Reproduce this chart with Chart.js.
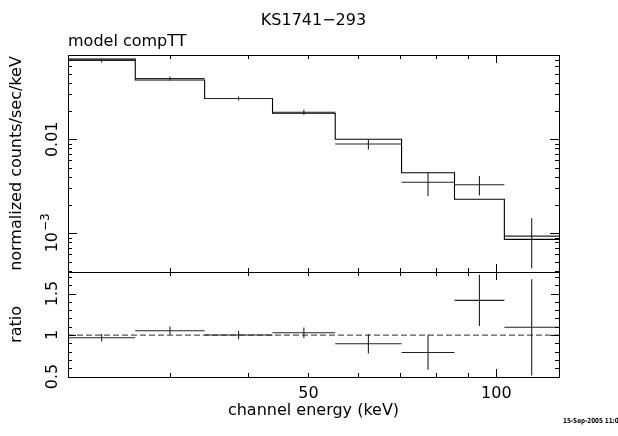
<!DOCTYPE html>
<html>
<head>
<meta charset="utf-8">
<script src="https://cdn.jsdelivr.net/npm/chart.js@4.4.1/dist/chart.umd.min.js"></script>
<style>
  html, body { margin: 0; padding: 0; background: #fff; }
  canvas { display: block; }
</style>
</head>
<body>
<canvas id="plot" width="618" height="436" style="width:618px;height:436px"></canvas>
<script>
// energy bin edges (keV), 8 channels
const binEdges = [20.6, 26.4, 34.1, 43.8, 55.2, 70.5, 85.7, 103, 126];
// top panel: data and folded model (normalized counts/sec/keV)
const counts    = [0.0689, 0.0444, 0.0272, 0.0194, 0.0089, 0.00349, 0.00329, 0.000935];
const countsErr = [0.0032, 0.0021, 0.00136, 0.0012, 0.0011, 0.0010, 0.00077, 0.00051];
const model     = [0.0712, 0.0428, 0.0272, 0.0189, 0.0100, 0.00441, 0.00230, 0.000863];
// bottom panel: data / model
const ratio    = [0.968, 1.052, 1.000, 1.028, 0.895, 0.790, 1.418, 1.093];
const ratioErr = [0.045, 0.050, 0.050, 0.064, 0.118, 0.210, 0.310, 0.580];

// axis ticks
const xTicks = [30, 40, 50, 60, 70, 80, 90, 100];
const xMajor = [100];
const xLabels = [[50, '50'], [100, '100']];
const yDecades = [1e-4, 1e-3, 1e-2];
const yLabels = [[0.01, '0.01'], [0.001, '10', '\u22123']];
const rTicks = [0.5, 0.6, 0.7, 0.8, 0.9, 1.0, 1.1, 1.2, 1.3, 1.4, 1.5, 1.6, 1.7];
const rMajor = [0.5, 1.0, 1.5];
const rLabels = [[0.5, '0.5'], [1, '1'], [1.5, '1.5']];

const FONT = '"DejaVu Sans", sans-serif';

// horizontal bin bars + vertical error bars, broken with null points
function crosses(vals, errs) {
  const h = [], v = [];
  vals.forEach((val, i) => {
    const lo = binEdges[i], hi = binEdges[i + 1];
    const c = Math.sqrt(lo * hi);
    h.push({x: lo, y: val}, {x: hi, y: val}, {x: hi, y: null});
    v.push({x: c, y: val - errs[i]}, {x: c, y: val + errs[i]}, {x: c, y: null});
  });
  return [h, v];
}

const [cH, cV] = crosses(counts, countsErr);
const [rH, rV] = crosses(ratio, ratioErr);
const modelStep = model.map((m, i) => ({x: binEdges[i], y: m}));
modelStep.push({x: binEdges[binEdges.length - 1], y: model[model.length - 1]});

function seg(data, axis, color, extra) {
  return Object.assign({
    data: data, yAxisID: axis, borderColor: color, borderWidth: 1.1,
    pointRadius: 0, spanGaps: false, fill: false, tension: 0
  }, extra || {});
}

const frame = {
  id: 'frame',
  afterDraw(chart) {
    const {ctx, chartArea: a, scales: {x, y, yr}} = chart;
    ctx.save();
    ctx.strokeStyle = '#000';
    ctx.lineWidth = 1;
    ctx.strokeRect(a.left + 0.5, y.top + 0.5, a.right - a.left, y.bottom - y.top);
    ctx.strokeRect(a.left + 0.5, yr.top + 0.5, a.right - a.left, yr.bottom - yr.top);

    ctx.beginPath();
    const tickX = (px, y0, len) => { ctx.moveTo(px, y0); ctx.lineTo(px, y0 + len); };
    xTicks.forEach(v => {
      const px = Math.round(x.getPixelForValue(v)) + 0.5;
      const len = xMajor.includes(v) ? 8 : 4;
      tickX(px, y.top, len);
      tickX(px, y.bottom, -len);
      tickX(px, yr.top, len);
      tickX(px, yr.bottom, -len);
    });
    const tickY = (py, len) => {
      ctx.moveTo(a.left, py); ctx.lineTo(a.left + len, py);
      ctx.moveTo(a.right, py); ctx.lineTo(a.right - len, py);
    };
    yDecades.forEach(d => {
      for (let m = 1; m <= 9; m++) {
        const v = m * d;
        if (v < y.min || v > y.max) continue;
        tickY(Math.round(y.getPixelForValue(v)) + 0.5, m === 1 ? 9 : 4);
      }
    });
    rTicks.forEach(v => {
      if (v < yr.min || v > yr.max) return;
      tickY(Math.round(yr.getPixelForValue(v)) + 0.5, rMajor.includes(v) ? 8 : 4);
    });
    ctx.stroke();

    ctx.fillStyle = '#000';
    ctx.font = '16px ' + FONT;
    ctx.textBaseline = 'alphabetic';
    const mid = (a.left + a.right) / 2;
    ctx.textAlign = 'center';
    ctx.fillText('KS1741\u2212293', mid, 25);
    ctx.fillText('channel energy (keV)', mid, 415);
    xLabels.forEach(([v, s]) => ctx.fillText(s, x.getPixelForValue(v), 398));
    ctx.textAlign = 'left';
    ctx.fillText('model compTT', a.left, 46);

    const vtext = (s, px, py) => {
      ctx.save();
      ctx.translate(px, py);
      ctx.rotate(-Math.PI / 2);
      ctx.textAlign = 'center';
      ctx.fillText(s, 0, 0);
      ctx.restore();
    };
    vtext('normalized counts/sec/keV', 21, (y.top + y.bottom) / 2);
    vtext('ratio', 21, (yr.top + yr.bottom) / 2);
    yLabels.forEach(([v, s, sup]) => {
      const py = y.getPixelForValue(v);
      if (!sup) { vtext(s, 57, py); return; }
      ctx.save();
      ctx.translate(57, py);
      ctx.rotate(-Math.PI / 2);
      ctx.font = '16px ' + FONT;
      const w1 = ctx.measureText(s).width;
      ctx.font = '12px ' + FONT;
      const w2 = ctx.measureText(sup).width;
      const x0 = -(w1 + w2) / 2;
      ctx.textAlign = 'left';
      ctx.fillText(sup, x0 + w1 + 1, -8);
      ctx.font = '16px ' + FONT;
      ctx.fillText(s, x0, 0);
      ctx.restore();
    });
    rLabels.forEach(([v, s]) => vtext(s, 57, yr.getPixelForValue(v)));

    // date stamp, squeezed horizontally like the plot driver's tiny font
    ctx.save();
    ctx.translate(563, 423);
    ctx.scale(0.8, 1);
    ctx.font = 'bold 7px ' + FONT;
    ctx.textAlign = 'left';
    ctx.fillText('15-Sep-2005 11:08', 0, 0);
    ctx.restore();
    ctx.restore();
  }
};

const hidden = {
  ticks: {display: false},
  grid: {display: false, drawTicks: false},
  border: {display: false},
  title: {display: false}
};

new Chart(document.getElementById('plot'), {
  type: 'line',
  data: {
    datasets: [
      seg(cH, 'y', '#222'),
      seg(cV, 'y', '#222'),
      seg(modelStep, 'y', '#000', {stepped: true}),
      seg(rH, 'yr', '#222'),
      seg(rV, 'yr', '#222'),
      seg([{x: binEdges[0], y: 1}, {x: binEdges[binEdges.length - 1], y: 1}], 'yr', '#555',
          {borderDash: [6, 3], borderWidth: 1.3})
    ]
  },
  options: {
    responsive: false,
    animation: false,
    events: [],
    layout: {padding: {left: 68, right: 59, top: 55, bottom: 59}},
    plugins: {legend: {display: false}, tooltip: {enabled: false}, title: {display: false}},
    scales: {
      x: Object.assign({type: 'logarithmic', min: 20.6, max: 126}, hidden),
      yr: Object.assign({type: 'linear', axis: 'y', position: 'left', stack: 'panels', stackWeight: 105,
                         min: 0.494, max: 1.76}, hidden),
      y: Object.assign({type: 'logarithmic', axis: 'y', position: 'left', stack: 'panels', stackWeight: 217,
                        min: 3.88e-4, max: 0.0788}, hidden)
    }
  },
  plugins: [frame]
});
</script>
</body>
</html>
